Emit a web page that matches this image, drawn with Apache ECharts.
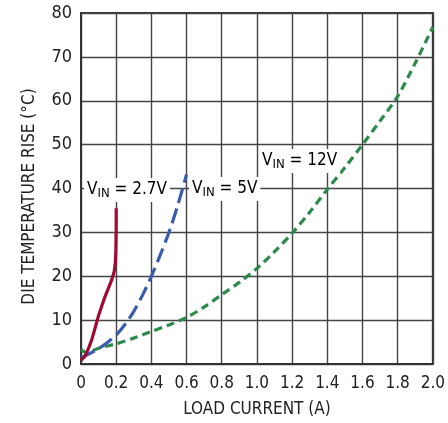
<!DOCTYPE html>
<html><head><meta charset="utf-8">
<script src="https://cdn.jsdelivr.net/npm/echarts@6/dist/echarts.min.js"></script>
<style>html,body{margin:0;padding:0;background:#fff}#c{width:448px;height:423px}</style>
</head><body><div id="c"></div>
<script>
const xTicks = [0, 0.2, 0.4, 0.6, 0.8, 1.0, 1.2, 1.4, 1.6, 1.8, 2.0];
const yTicks = [0, 10, 20, 30, 40, 50, 60, 70, 80];

const v27Current = [0, 0.023, 0.042, 0.061, 0.08, 0.098, 0.117, 0.136, 0.155, 0.174, 0.188, 0.195, 0.198, 0.199, 0.2, 0.2];
const v27Temp    = [0.8, 1.8, 3.5, 5.5, 8.2, 10.8, 13.1, 15.3, 17.2, 19.1, 21.0, 23.0, 25.5, 28.0, 31.0, 35.5];

const v5Current = [0, 0.05, 0.1, 0.15, 0.2, 0.25, 0.3, 0.35, 0.4, 0.45, 0.5, 0.55, 0.6];
const v5Temp    = [1.5, 2.4, 3.5, 4.9, 6.6, 9.0, 12.0, 15.7, 20.0, 24.8, 30.0, 36.2, 43.2];

const v12Current = [0, 0.03, 0.1, 0.2, 0.3, 0.4, 0.5, 0.6, 0.7, 0.8, 0.9, 1.0, 1.1, 1.2, 1.3, 1.4, 1.5, 1.6, 1.7, 1.8, 1.9, 2.0];
const v12Temp    = [3.3, 2.6, 3.6, 4.6, 5.9, 7.4, 8.9, 10.6, 13.0, 15.8, 18.6, 21.8, 25.6, 29.8, 34.6, 39.8, 44.8, 50.0, 55.4, 61.0, 68.6, 76.8];

const labels = ['2.7V', '5V', '12V'];

const FONT = "'DejaVu Sans Condensed', 'Liberation Sans', sans-serif";
function pairs(xs, ys) { return xs.map((x, i) => [x, ys[i]]); }

const chart = echarts.init(document.getElementById('c'), null, {renderer: 'canvas'});
const rich = {
  v: {fontSize: 17, fontFamily: FONT, color: '#222', lineHeight: 19, verticalAlign: 'top'},
  s: {fontSize: 13, fontFamily: FONT, color: '#222', lineHeight: 12, verticalAlign: 'bottom'}
};
function lbl(x, y, t) {
  return {type: 'text', left: x, top: y, z: 100,
    style: {text: '{v|V}{s|IN}{v| = ' + t + '}', rich: rich, backgroundColor: '#fff', padding: [3, 3, 2, 3]}};
}
chart.setOption({
  animation: false,
  grid: {left: 81, top: 13, right: 15, bottom: 59, show: true, borderColor: '#333', borderWidth: 2, backgroundColor: 'transparent'},
  xAxis: {
    type: 'value', min: 0, max: 2, interval: 0.2,
    name: 'LOAD CURRENT (A)', nameLocation: 'middle', nameGap: 37,
    nameTextStyle: {fontSize: 17, fontFamily: FONT, color: '#222'},
    axisLine: {show: true, lineStyle: {color: '#333', width: 2}},
    axisTick: {show: false},
    axisLabel: {fontSize: 17, fontFamily: FONT, color: '#222', margin: 11,
      formatter: v => { const t = xTicks.find(k => Math.abs(k - v) < 1e-6); return t === 0 ? '0' : (t !== undefined ? t.toFixed(1) : ''); }},
    splitLine: {show: true, lineStyle: {color: '#444', width: 1.4}}
  },
  yAxis: {
    type: 'value', min: 0, max: 80, interval: 10,
    name: 'DIE TEMPERATURE RISE (°C)', nameLocation: 'middle', nameGap: 43,
    nameTextStyle: {fontSize: 17, fontFamily: FONT, color: '#222', padding: [0, 16, 0, 0]},
    axisLine: {show: true, lineStyle: {color: '#333', width: 2}},
    axisTick: {show: false},
    axisLabel: {fontSize: 18, fontFamily: FONT, color: '#222', margin: 9,
      formatter: v => { const t = yTicks.find(k => Math.abs(k - v) < 1e-6); return t !== undefined ? String(t) : ''; }},
    splitLine: {show: true, lineStyle: {color: '#444', width: 1.4}}
  },
  series: [
    {type: 'line', data: pairs(v12Current, v12Temp), smooth: 0.3, showSymbol: false,
      lineStyle: {color: '#2b8a4c', width: 3.2, type: [8, 5]}, z: 3},
    {type: 'line', data: pairs(v5Current, v5Temp), smooth: 0.3, showSymbol: false,
      lineStyle: {color: '#3a5cae', width: 3.2, type: [15, 6]}, z: 4},
    {type: 'line', data: pairs(v27Current, v27Temp), smooth: false, showSymbol: false,
      lineStyle: {color: '#a00a32', width: 3.2, join: 'round'}, z: 5}
  ],
  graphic: [lbl(84, 178, labels[0]), lbl(189, 177, labels[1]), lbl(259, 149, labels[2])]
});
</script></body></html>
